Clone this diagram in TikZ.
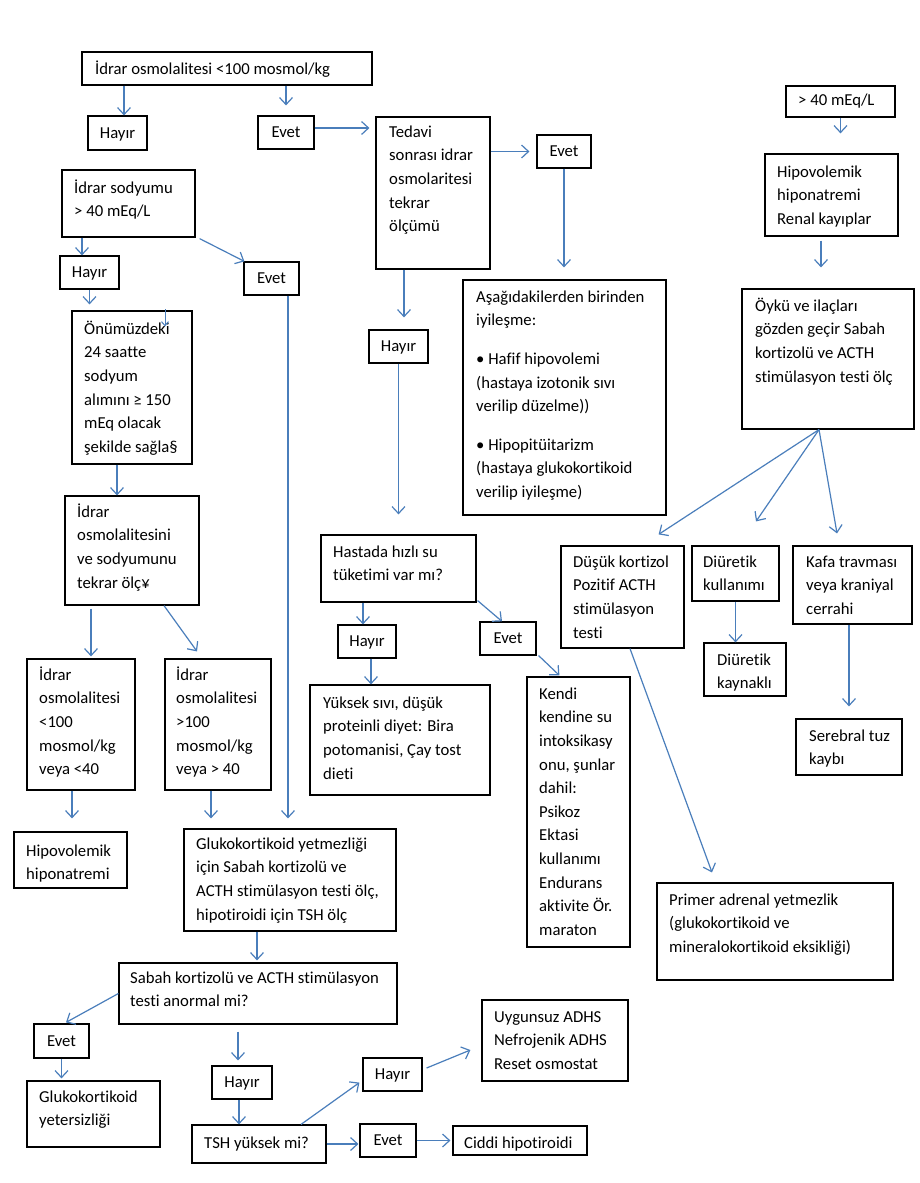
\documentclass[tikz,border=0pt]{standalone}
\usepackage{fontspec}
\setmainfont{Carlito}[Ligatures=NoCommon]
\usetikzlibrary{arrows.meta,fit,calc}
\definecolor{arrowc}{HTML}{4A7EBB}
\newcommand\bxfont{\fontsize{16.7}{23.6}\selectfont}
\tikzset{
  box/.style={draw=black, line width=1.2pt, rectangle, inner sep=0pt},
  txt/.style={inner sep=0pt, align=left, font=\bxfont},
  arr/.style={draw=arrowc, line width=1.2pt, -{Straight Barb[length=7pt,width=13pt]}},
  tiny arr/.style={draw=arrowc, line width=1pt, -{Straight Barb[length=4pt,width=7pt]}}
}
% multi-line box: name, x1,y1,x2,y2, text x, first baseline, text
\newcommand\tbox[8]{%
  \node[box, fit={(#2,#3) (#4,#5)}] (#1) {};
  \node[txt, anchor=north west] (#1-t) at ({#6},{#7-16.52}) {\strut #8};
}
% centred one-word box
\newcommand\cbx[6]{%
  \node[box, minimum width={#4-#2}, minimum height={#5-#3}, font=\bxfont,
        text height=10.7pt, text depth=0pt] (#1) at ({(#2+#4)/2},{(#3+#5)/2}) {#6};
}
\begin{document}
\begin{tikzpicture}[x=1pt,y=-1pt]
\fill[white] (0,0) rectangle (920,1183);
\useasboundingbox (0,0) rectangle (920,1183);

% ---------- boxes ----------
\tbox{b1}{82}{52}{372}{85}{95}{74}{İdrar osmolalitesi <100 mosmol/kg}
\cbx{h1}{88}{116}{147}{150}{Hayır}
\cbx{e1}{258}{116}{314}{149}{Evet}
\tbox{tedavi}{376}{117}{490}{269}{389}{137}{Tedavi\\sonrası idrar\\osmolaritesi\\tekrar\\ölçümü}
\cbx{e3}{537}{135}{591}{168}{Evet}
\tbox{asag}{463}{280}{666}{515}{476}{302}{Aşağıdakilerden birinden\\iyileşme:\\[15pt]• Hafif hipovolemi\\(hastaya izotonik sıvı\\verilip düzelme))\\[15pt]• Hipopitüitarizm\\(hastaya glukokortikoid\\verilip iyileşme)}
\cbx{h3}{369}{330}{428}{363}{Hayır}

\tbox{meq}{786}{86}{895}{117}{798}{105}{> 40 mEq/L}
\tbox{hiporenal}{765}{154}{898}{236}{777}{177}{Hipovolemik\\hiponatremi\\Renal kayıplar}
\tbox{oyku}{742}{289}{914}{429}{755}{311}{Öykü ve ilaçları\\gözden geçir Sabah\\kortizolü ve ACTH\\stimülasyon testi ölç}
\tbox{dusuk}{561}{546}{684}{648}{573}{567}{Düşük kortizol\\Pozitif ACTH\\stimülasyon\\testi}
\tbox{diu}{692}{546}{779}{601}{703}{567}{Diüretik\\kullanımı}
\tbox{diuk}{704}{643}{786}{696}{717}{665}{Diüretik\\kaynaklı}
\tbox{kafa}{793}{546}{912}{624}{806}{567}{Kafa travması\\veya kraniyal\\cerrahi}
\tbox{sereb}{796}{719}{902}{775}{809}{741}{Serebral tuz\\kaybı}
\tbox{primer}{657}{883}{893}{980}{669}{905}{Primer adrenal yetmezlik\\(glukokortikoid ve\\mineralokortikoid eksikliği)}

\tbox{sod}{62}{170}{195}{237}{74}{193}{İdrar sodyumu\\> 40 mEq/L}
\cbx{h2}{60}{256}{119}{289}{Hayır}
\cbx{e2}{244}{262}{299}{295}{Evet}
\tbox{onum}{72}{311}{192}{464}{84}{334}{Önümüzdeki\\24 saatte\\sodyum\\alımını ≥ 150\\mEq olacak\\şekilde sağla§}
\tbox{osmsod}{65}{496}{199}{605}{77}{517}{İdrar\\osmolalitesini\\ve sodyumunu\\tekrar ölç¥}
\tbox{lt}{27}{659}{135}{790}{39}{680}{İdrar\\osmolalitesi\\<100\\mosmol/kg\\veya <40}
\tbox{gt}{165}{659}{271}{790}{176}{680}{İdrar\\osmolalitesi\\>100\\mosmol/kg\\veya > 40}
\tbox{hipo}{14}{832}{127}{888}{26}{856}{Hipovolemik\\hiponatremi}
\tbox{gluko}{184}{829}{396}{931}{196}{849}{Glukokortikoid yetmezliği\\için Sabah kortizolü ve\\ACTH stimülasyon testi ölç,\\hipotiroidi için TSH ölç}
\tbox{sabah}{119}{963}{397}{1024}{130}{983}{Sabah kortizolü ve ACTH stimülasyon\\testi anormal mi?}
\cbx{e4}{34}{1024}{89}{1058}{Evet}
\tbox{gyet}{27}{1081}{160}{1147}{39}{1102}{Glukokortikoid\\yetersizliği}
\cbx{h4}{212}{1066}{272}{1099}{Hayır}
\tbox{tsh}{192}{1125}{326}{1163}{204}{1148}{TSH yüksek mi?}
\cbx{e5}{360}{1124}{416}{1157}{Evet}
\tbox{ciddi}{453}{1126}{587}{1155}{464}{1148}{Ciddi hipotiroidi}
\cbx{h5}{363}{1058}{422}{1091}{Hayır}
\tbox{uyg}{482}{1000}{628}{1081}{494}{1022}{Uygunsuz ADHS\\Nefrojenik ADHS\\Reset osmostat}

\tbox{hastada}{321}{535}{476}{602}{333}{557}{Hastada hızlı su\\tüketimi var mı?}
\cbx{h6}{338}{625}{396}{658}{Hayır}
\cbx{e6}{480}{622}{536}{655}{Evet}
\tbox{yuksek}{310}{685}{490}{795}{323}{708}{Yüksek sıvı, düşük\\proteinli diyet: Bira\\potomanisi, Çay tost\\dieti}
\tbox{kendi}{527}{677}{630}{947}{539}{699}{Kendi\\kendine su\\intoksikasy\\onu, şunlar\\dahil:\\Psikoz\\Ektasi\\kullanımı\\Endurans\\aktivite Ör.\\maraton}

% ---------- guide coordinates ----------
\coordinate (g1) at ($(h1.north)+(6.5,0)$);
\coordinate (g6) at ($(h3.north)+(5.5,0)$);
\coordinate (g9) at ($(hiporenal.south)+(-10.5,0)$);
\coordinate (oo) at ($(oyku.south)+(-9,0)$);
\coordinate (g16) at ($(h2.north)+(-7.5,0)$);
\coordinate (g18) at ($(e2.south)+(16.5,0)$);
\coordinate (g21) at ($(onum.south)+(-15,0)$);
\coordinate (g22) at ($(lt.north)+(10,0)$);
\coordinate (g24) at ($(lt.south)+(-9,0)$);
\coordinate (g25) at ($(gt.south)+(-7,0)$);
\coordinate (g26) at ($(gluko.south)+(-33,0)$);
\coordinate (g29) at ($(h4.north)+(-4,0)$);
\coordinate (g30) at ($(h4.south)+(-3,0)$);
\coordinate (g37) at ($(h6.north)+(-4,0)$);
\coordinate (g38) at ($(h6.south)+(4,0)$);
\coordinate (g3) at ($(e1.east)+(0,-4.5)$);
\coordinate (s1) at ($(onum.north)+(33,-1)$);
\coordinate (s2) at ($(onum.north)+(33,16)$);

% ---------- connectors ----------
\draw[arr] (b1.south -| g1) -- (h1.north -| g1);
\draw[arr, shorten >=10pt] (b1.south -| e1.north) -- (e1.north);
\draw[arr, shorten >=6pt] (g3) -- (g3 -| tedavi.west);
\draw[arr, shorten >=7pt] (tedavi.east |- e3.west) -- (e3.west);
\draw[arr, shorten >=12pt] (e3.south) -- (e3.south |- asag.north);
\draw[arr, shorten >=12pt] (tedavi.south -| g6) -- (h3.north -| g6);
\draw[arr, shorten >=20pt] (h3.south) -- (h3.south |- hastada.north);

\draw[arr, shorten >=20pt] (meq.south) -- (meq.south |- hiporenal.north);
\draw[arr, shorten <=4pt, shorten >=21pt] (g9) -- (g9 |- oyku.north);
\draw[arr] (oo) -- ($(dusuk.north east)+(-26,-11)$);
\draw[arr] (oo) -- ($(diu.north)+(20.5,-24)$);
\draw[arr] (oo) -- ($(kafa.north)+(-15.5,-12)$);
\draw[arr] (diu.south) -- (diu.south |- diuk.north);
\draw[arr, shorten >=12pt] (kafa.south -| sereb.north) -- (sereb.north);
\draw[arr] ($(dusuk.south)+(7.5,0)$) -- ($(primer.north)+(-63,-10)$);

\draw[arr] (sod.south -| g16) -- (h2.north -| g16);
\draw[arr] ($(sod.south east)+(4,1)$) -- ($(e2.north west)+(1,0)$);
\draw[arr, shorten >=10pt] (e2.south -| g18) -- (gluko.north -| g18);
\draw[arr, shorten >=6pt] (h2.south) -- (h2.south |- onum.north);
\draw[tiny arr] (s1) -- (s2);
\draw[arr] (onum.south -| g21) -- (osmsod.north -| g21);
\draw[arr, shorten <=3pt, shorten >=2pt] (osmsod.south -| g22) -- (g22);
\draw[arr] ($(osmsod.south)+(32,0)$) -- ($(gt.north)+(-21,-7)$);
\draw[arr, shorten >=13pt] (g24) -- (g24 |- hipo.north);
\draw[arr, shorten >=10pt] (g25) -- (g25 |- gluko.north);
\draw[arr, shorten >=2pt] (g26) -- (g26 |- sabah.north);
\draw[arr] (sabah.west) -- ($(e4.north)+(4.5,-1)$);
\draw[arr, shorten >=2pt] (e4.south) -- (e4.south |- gyet.north);
\draw[arr, shorten <=7pt, shorten >=5pt] (sabah.south -| g29) -- (g29);
\draw[arr] (g30) -- (g30 |- tsh.north);
\draw[arr, shorten >=1pt] (tsh.east) -- (tsh.east -| e5.west);
\draw[arr, shorten >=2pt] (e5.east |- ciddi.west) -- (ciddi.west);
\draw[arr] ($(tsh.north)+(42,0)$) -- ($(h5.south west)+(-3,-9)$);
\draw[arr] ($(h5.east)+(4,-6.5)$) -- ($(uyg.west)+(-11,9.5)$);

\draw[arr] ($(hastada.south east)+(1,-2)$) -- ($(e6.north)+(-6,0)$);
\draw[arr] ($(e6.south east)+(2,0)$) -- ($(kendi.north west)+(33,-1)$);
\draw[arr] (hastada.south -| g37) -- (g37);
\draw[arr] (g38) -- (g38 |- yuksek.north);
\end{tikzpicture}
\end{document}
